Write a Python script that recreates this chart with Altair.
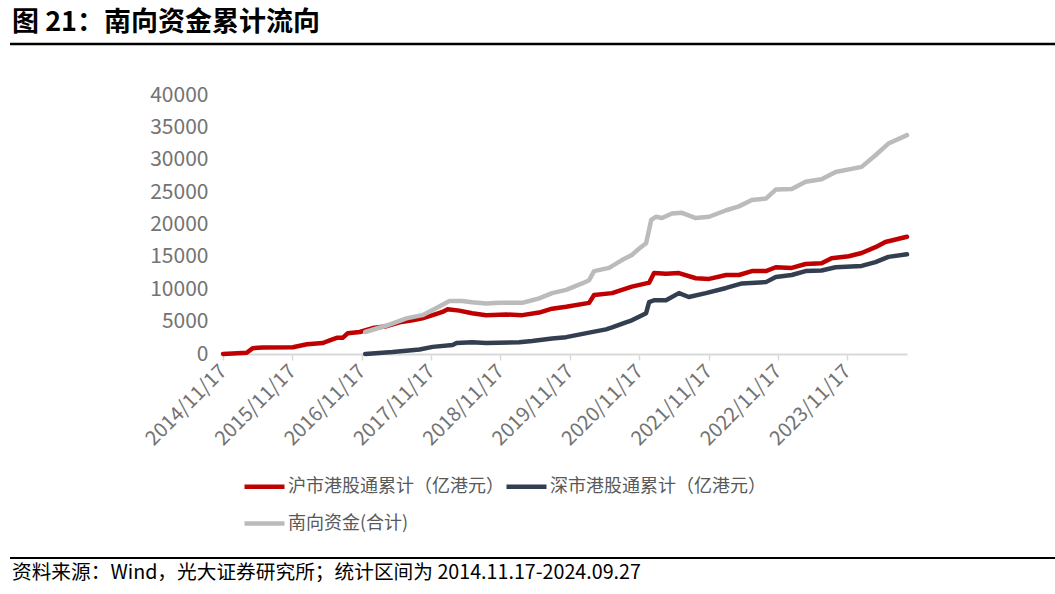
import altair as alt
import pandas as pd

# 沪市港股通累计（亿港元）
sh_dates = ["2014-11-17", "2015-03-22", "2015-04-23", "2015-06-15", "2015-11-20", "2016-02-02",
            "2016-04-26", "2016-06-01", "2016-07-08", "2016-08-08", "2016-09-04", "2016-11-06",
            "2017-01-13", "2017-03-28", "2017-06-04", "2017-08-11", "2017-10-02", "2017-11-25",
            "2018-01-16", "2018-02-12", "2018-04-14", "2018-06-21", "2018-09-03", "2018-12-18",
            "2019-03-12", "2019-06-09", "2019-08-16", "2019-10-29", "2020-02-27", "2020-03-24",
            "2020-06-27", "2020-10-09", "2020-12-23", "2021-01-08", "2021-02-03", "2021-04-07",
            "2021-06-14", "2021-09-11", "2021-11-20", "2022-02-18", "2022-04-26", "2022-07-03",
            "2022-09-15", "2022-11-06", "2023-01-29", "2023-04-12", "2023-07-05", "2023-08-27",
            "2023-11-25", "2024-02-01", "2024-04-14", "2024-06-05", "2024-09-27"]
sh_vals = [0, 200, 900, 1000, 1050, 1500,
           1700, 2100, 2500, 2500, 3200, 3400,
           4000, 4300, 4900, 5200, 5500, 6000,
           6500, 6900, 6700, 6300, 6000, 6100,
           6000, 6400, 7000, 7300, 7900, 9100,
           9400, 10400, 10900, 11000, 12500, 12400,
           12500, 11700, 11600, 12200, 12200, 12800,
           12800, 13400, 13300, 13900, 14000, 14800,
           15100, 15600, 16500, 17300, 18100]

# 深市港股通累计（亿港元）
sz_dates = ["2016-12-05", "2017-04-28", "2017-09-17", "2017-11-25", "2018-03-10", "2018-03-31",
            "2018-06-21", "2018-09-03", "2019-02-24", "2019-05-03", "2019-08-16", "2019-10-29",
            "2020-02-27", "2020-05-26", "2020-06-27", "2020-09-08", "2020-10-09", "2020-12-02",
            "2020-12-23", "2021-01-08", "2021-02-03", "2021-04-07", "2021-06-14", "2021-08-05",
            "2021-11-03", "2022-02-18", "2022-05-12", "2022-09-15", "2022-11-06", "2023-01-29",
            "2023-04-12", "2023-07-05", "2023-09-17", "2024-02-01", "2024-04-14", "2024-06-21",
            "2024-09-27"]
sz_vals = [0, 300, 700, 1100, 1400, 1700,
           1800, 1700, 1800, 2000, 2400, 2600,
           3300, 3800, 4100, 4900, 5200, 6000,
           6300, 8000, 8300, 8300, 9400, 8800,
           9400, 10200, 10900, 11100, 11900, 12200,
           12800, 12900, 13400, 13600, 14200, 15000,
           15400]

# 南向资金(合计)
tot_dates = ["2016-12-05", "2017-03-28", "2017-07-10", "2017-10-02", "2017-11-25", "2018-01-16",
             "2018-02-22", "2018-04-30", "2018-06-21", "2018-09-03", "2018-11-12", "2019-03-12",
             "2019-05-03", "2019-06-09", "2019-08-16", "2019-10-29", "2020-01-21", "2020-02-27",
             "2020-03-24", "2020-06-11", "2020-08-18", "2020-10-09", "2020-11-17", "2020-12-23",
             "2021-01-19", "2021-02-14", "2021-03-17", "2021-05-08", "2021-06-30", "2021-09-11",
             "2021-11-20", "2022-02-18", "2022-04-26", "2022-07-03", "2022-09-15", "2022-11-06",
             "2023-01-29", "2023-04-12", "2023-07-05", "2023-09-17", "2024-02-01", "2024-04-14",
             "2024-06-21", "2024-09-27"]
tot_vals = [3400, 4400, 5500, 6000, 6800, 7600,
            8200, 8200, 8000, 7800, 7900, 7900,
            8300, 8600, 9400, 9900, 10900, 11400,
            12800, 13300, 14500, 15300, 16300, 17100,
            20700, 21200, 21000, 21700, 21800, 21000,
            21200, 22200, 22800, 23800, 24000, 25400,
            25500, 26600, 27000, 28100, 28900, 30700,
            32500, 33800]

series_names = ["沪市港股通累计（亿港元）", "深市港股通累计（亿港元）", "南向资金(合计)"]
series_colors = ["#C00000", "#333F50", "#BBBBBB"]
tick_years = list(range(2014, 2024))
y_ticks = list(range(0, 40001, 5000))

title_text = "图 21：南向资金累计流向"
source_text = "资料来源：Wind，光大证券研究所；统计区间为 2014.11.17-2024.09.27"

frames = []
for name, d, v in zip(series_names, [sh_dates, sz_dates, tot_dates], [sh_vals, sz_vals, tot_vals]):
    frames.append(pd.DataFrame({"date": d, "value": v, "series": name}))
df = pd.concat(frames, ignore_index=True)

FONT = "Noto Sans CJK SC"

x_enc = alt.X(
    "date:T",
    scale=alt.Scale(type="utc",
                    domain=[alt.DateTime(year=2014, month=11, date=17, utc=True),
                            alt.DateTime(year=2024, month=9, date=27, utc=True)]),
    axis=alt.Axis(
        values=[alt.DateTime(year=yr, month=11, date=17, utc=True) for yr in tick_years],
        labelExpr="utcFormat(datum.value, '%Y/%m/%d')",
        labelAngle=-45, labelAlign="right", labelBaseline="middle",
        labelFontSize=20, labelColor="#737373", labelFont=FONT, labelPadding=8,
        domainColor="#D9D9D9", domainWidth=2, tickColor="#D9D9D9", tickWidth=1.5, tickSize=6,
        grid=False, title=None, labelOverlap=False, labelFlush=False),
)
y_enc = alt.Y(
    "value:Q",
    scale=alt.Scale(domain=[0, 40000], nice=False),
    axis=alt.Axis(values=y_ticks, format="d", labelFontSize=21, labelColor="#737373",
                  labelFont=FONT, labelPadding=15, domain=False, ticks=False, grid=False,
                  title=None),
)

lines = alt.Chart(df).mark_line(strokeWidth=4.5, strokeCap="round", strokeJoin="round").encode(
    x=x_enc,
    y=y_enc,
    color=alt.Color(
        "series:N",
        scale=alt.Scale(domain=series_names, range=series_colors),
        legend=alt.Legend(
            orient="none", legendX=19, legendY=369, columns=2, direction="horizontal",
            title=None, symbolType="stroke", symbolSize=1600, symbolStrokeWidth=4.5,
            labelFontSize=18, labelFont=FONT, labelColor="#595959", labelLimit=500,
            labelOffset=1, columnPadding=-25, rowPadding=5),
    ),
)

title = alt.Chart(pd.DataFrame({"t": [title_text]})).mark_text(
    align="left", baseline="middle", fontSize=27, fontWeight="bold", font=FONT, color="#000000"
).encode(x=alt.value(-211), y=alt.value(-72), text="t:N")

top_rule = alt.Chart(pd.DataFrame({"a": [0]})).mark_rule(color="#000000", strokeWidth=2.5).encode(
    x=alt.value(-213), x2=alt.value(832), y=alt.value(-51))

bottom_rule = alt.Chart(pd.DataFrame({"a": [0]})).mark_rule(color="#000000", strokeWidth=2).encode(
    x=alt.value(-213), x2=alt.value(832), y=alt.value(463))

source = alt.Chart(pd.DataFrame({"t": [source_text]})).mark_text(
    align="left", baseline="middle", fontSize=19.7, font=FONT, color="#000000"
).encode(x=alt.value(-211), y=alt.value(478), text="t:N")

chart = alt.layer(lines, title, top_rule, bottom_rule, source).properties(
    width=684, height=259,
    autosize=alt.AutoSizeParams(type="none"),
    padding={"left": 223, "top": 95, "right": 148, "bottom": 240},
    background="white",
).configure_view(stroke=None)

chart.save("out.html", embed_options={"renderer": "svg", "actions": False})
